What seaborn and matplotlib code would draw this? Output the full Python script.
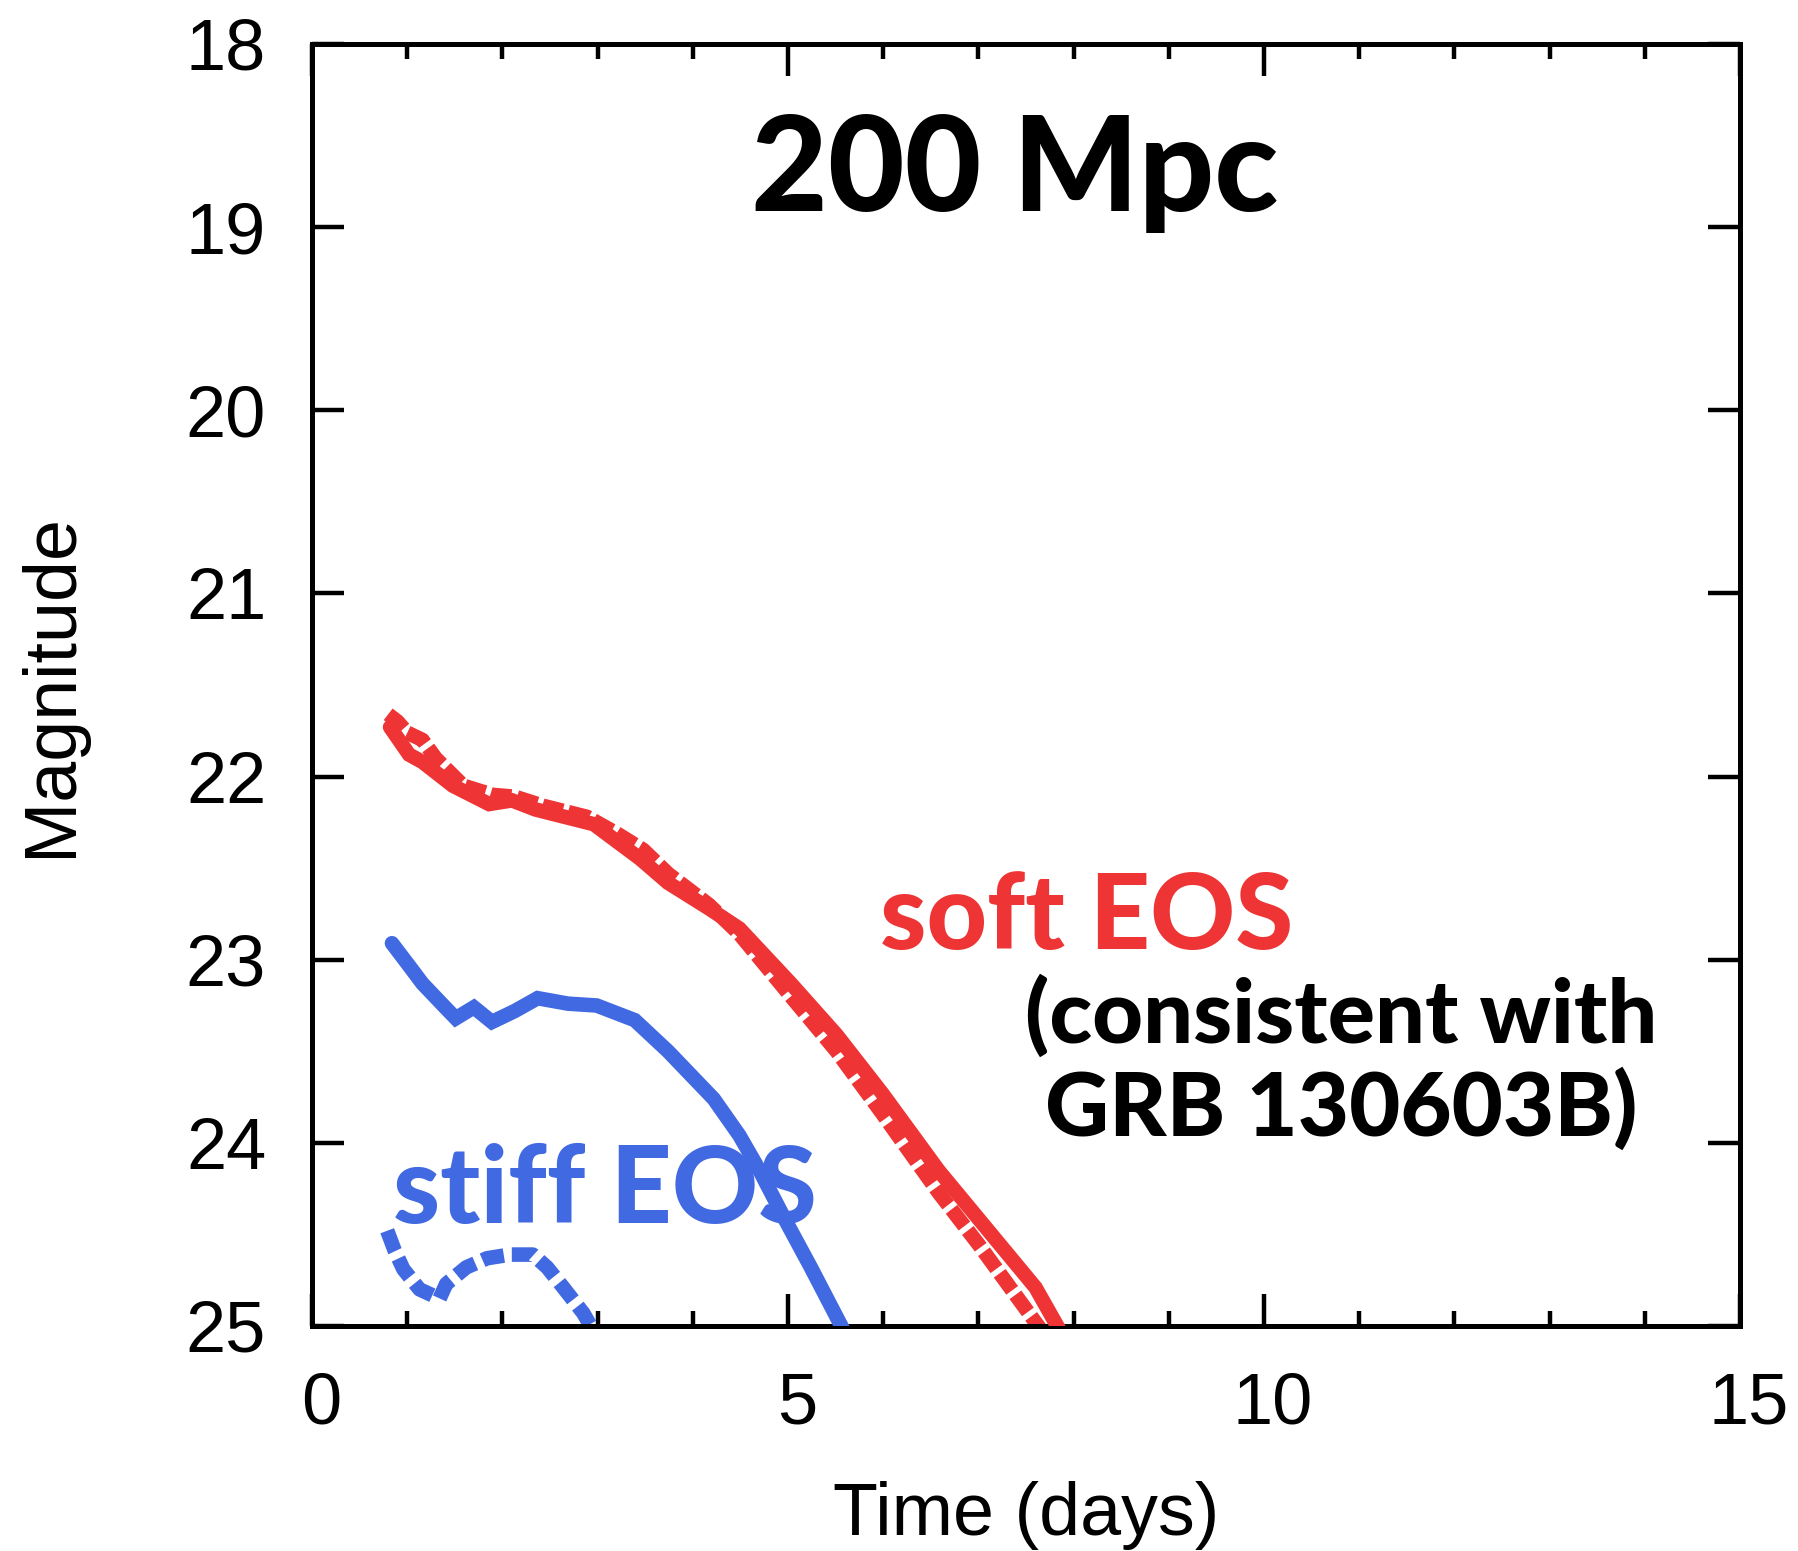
import matplotlib
matplotlib.use("Agg")
import matplotlib.pyplot as plt
import matplotlib.transforms as mtransforms
from matplotlib.ticker import MultipleLocator, FixedLocator
import seaborn as sns

# ---------------- data ----------------
red_solid_t = [0.82, 1.02, 1.16, 1.48, 1.86, 2.10, 2.35, 2.96, 3.45, 3.74, 4.17,
               4.49, 5.03, 5.51, 5.99, 6.58, 7.01, 7.60, 7.85]
red_solid_mag = [21.73, 21.88, 21.92, 22.05, 22.15, 22.13, 22.18, 22.26, 22.45, 22.58, 22.72,
                 22.83, 23.13, 23.41, 23.73, 24.15, 24.42, 24.79, 25.02]

red_dash_t = [0.80, 0.90, 1.00, 1.16, 1.30, 1.59, 1.90, 2.13, 2.43, 2.89, 3.20, 3.48,
              3.74, 4.17, 4.49, 5.03, 5.51, 5.99, 6.58, 7.01, 7.60, 7.70]
red_dash_mag = [21.66, 21.70, 21.76, 21.80, 21.90, 22.05, 22.10, 22.11, 22.16, 22.22, 22.31,
                22.40, 22.53, 22.70, 22.86, 23.20, 23.50, 23.84, 24.27, 24.56, 24.98, 25.05]

blue_solid_t = [0.84, 1.03, 1.16, 1.38, 1.51, 1.70, 1.89, 2.13, 2.37, 2.69, 2.99, 3.39,
                3.74, 4.22, 4.49, 4.70, 4.97, 5.24, 5.58]
blue_solid_mag = [22.91, 23.04, 23.13, 23.25, 23.32, 23.26, 23.34, 23.28, 23.21, 23.24, 23.25,
                  23.33, 23.50, 23.76, 23.96, 24.15, 24.42, 24.68, 25.02]

blue_dash_t = [0.79, 0.87, 0.96, 1.13, 1.34, 1.41, 1.62, 1.84, 2.08, 2.32, 2.47, 2.64, 2.85, 2.95]
blue_dash_mag = [24.48, 24.59, 24.69, 24.80, 24.85, 24.77, 24.68, 24.63, 24.61, 24.61, 24.68,
                 24.79, 24.93, 25.02]

x_major_ticks = [0, 5, 10, 15]
y_major_ticks = [18, 19, 20, 21, 22, 23, 24, 25]

RED = "#EE3434"
BLUE = "#4169E1"

# ---------------- style ----------------
sns.set_theme(style="ticks")
plt.rcParams["font.family"] = ["Liberation Sans", "DejaVu Sans"]

W, H = 1799, 1551
fig = plt.figure(figsize=(W / 100, H / 100), dpi=100)
ax_l, ax_r, ax_t, ax_b = 312, 1740, 44, 1326
ax = fig.add_axes([ax_l / W, 1 - ax_b / H, (ax_r - ax_l) / W, (ax_b - ax_t) / H])

LW = 10.5
specs = [
    (red_dash_t, red_dash_mag, RED, (0, (1.45, 0.38)), 2),
    (red_solid_t, red_solid_mag, RED, "-", 3),
    (blue_solid_t, blue_solid_mag, BLUE, "-", 3),
    (blue_dash_t, blue_dash_mag, BLUE, (0, (1.5, 0.55)), 2),
]
for xs, ys, col, ls, z in specs:
    n_before = len(ax.lines)
    sns.lineplot(x=xs, y=ys, ax=ax, color=col, sort=False)
    line = ax.lines[n_before]
    line.set_linewidth(LW)
    line.set_linestyle(ls)
    line.set_zorder(z)
    line.set_solid_joinstyle("miter")
    line.set_dash_capstyle("butt")

ax.set_xlim(0, 15)
ax.set_ylim(25, 18)

ax.xaxis.set_major_locator(FixedLocator(x_major_ticks))
ax.xaxis.set_minor_locator(MultipleLocator(1))
ax.yaxis.set_major_locator(FixedLocator(y_major_ticks))
ax.set_xticklabels([str(v) for v in x_major_ticks])
ax.set_yticklabels([str(v) for v in y_major_ticks])

for s in ax.spines.values():
    s.set_linewidth(3.6)
    s.set_color("black")
    s.set_visible(True)

ax.tick_params(axis="both", which="both", direction="in", top=True, right=True,
               color="black", width=3.2)
ax.tick_params(axis="both", which="major", length=23, labelsize=52, pad=33,
               labelcolor="black")
ax.tick_params(axis="x", which="minor", length=11)
ax.tick_params(axis="y", which="minor", length=0)

offset = mtransforms.ScaledTranslation(0.09, 0, fig.dpi_scale_trans)
for lab in ax.get_xticklabels():
    lab.set_transform(lab.get_transform() + offset)

ax.set_xlabel("Time (days)", fontsize=53, color="black")
ax.set_ylabel("Magnitude", fontsize=53, color="black")
ax.xaxis.set_label_coords(0.5, (ax_b - 1481) / (ax_b - ax_t))
ax.yaxis.set_label_coords((86 - ax_l) / (ax_r - ax_l), 0.5)


def px2data(px, py):
    return (px - ax_l) / ((ax_r - ax_l) / 15.0), 18 + (py - ax_t) / ((ax_b - ax_t) / 7.0)


bold_family = ["Lato", "Open Sans", "DejaVu Sans"]
texts = []


def add_text(s, cx, base, color, size, target_w):
    x, y = px2data(cx, base)
    t = ax.text(x, y, s, color=color, fontsize=size, fontweight="black",
                family=bold_family, ha="center", va="baseline", zorder=4)
    texts.append((t, target_w))
    return t


add_text("200 Mpc", 1015, 211, "black", 100, 527)
add_text("soft EOS", 1087, 949, RED, 80, 413)
t_c = add_text("(consistent with", 1341, 1043, "black", 66, 650)
t_g = add_text("GRB 130603B)", 1341, 1136, "black", 66, 576)
add_text("stiff EOS", 605, 1223, BLUE, 80, 424)

# fit font sizes to the measured text widths
fig.canvas.draw()
renderer = fig.canvas.get_renderer()
for t, tw in texts:
    w = t.get_window_extent(renderer).width
    t.set_fontsize(t.get_fontsize() * tw / w)
common = 0.5 * (t_c.get_fontsize() + t_g.get_fontsize())
t_c.set_fontsize(common)
t_g.set_fontsize(common)

fig.savefig("out.png", dpi=100, facecolor="white")
